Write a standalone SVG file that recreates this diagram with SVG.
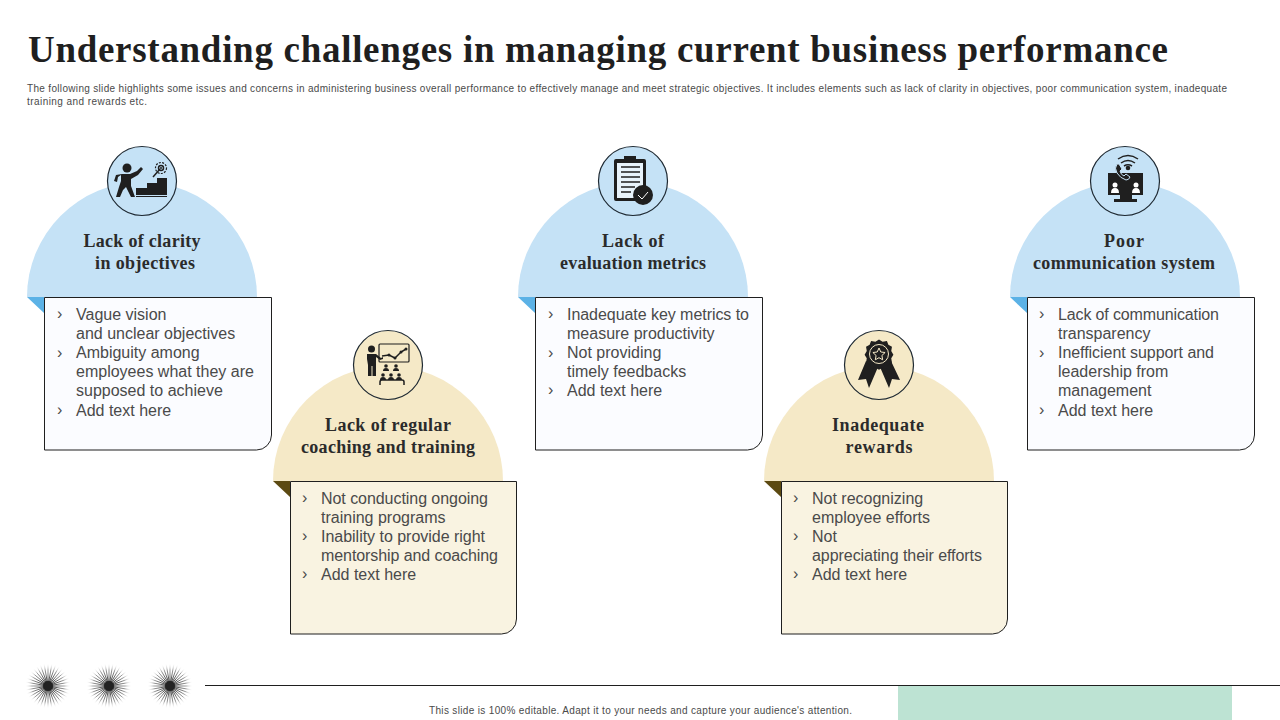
<svg xmlns="http://www.w3.org/2000/svg" xmlns:xlink="http://www.w3.org/1999/xlink" width="1280" height="720" viewBox="0 0 1280 720">
<style>
text{font-family:"Liberation Sans",Arial,sans-serif}
.title{font-family:"Liberation Serif","Times New Roman",serif;font-weight:700;font-size:37px;fill:#1f1f1f}
.sub{font-size:10px;fill:#4a4a4a}
.head{font-family:"Liberation Serif","Times New Roman",serif;font-weight:700;font-size:18px;fill:#2b2b2b;text-anchor:middle}
.body{font-size:16px;fill:#4a4a4a}
.card{stroke:#1f1f1f;stroke-width:1}
.ring{stroke:#1f2a33;stroke-width:1.2}
.ic{fill:#1f1f1f}
.icl{fill:none;stroke:#1f1f1f;stroke-width:1.5}
.icw{fill:none;stroke:#f5e9c7;stroke-width:1}
.db{fill:#c5e2f6}.fb{fill:#5cb2e6}.cb{fill:#fbfcff}
.dt{fill:#f5e9c7}.ft{fill:#5c4a12}.ct{fill:#f9f3e1}
</style>
<defs>
<radialGradient id="rg" gradientUnits="userSpaceOnUse" cx="0" cy="0" r="23">
<stop offset="0" stop-color="#111"/><stop offset=".3" stop-color="#333"/><stop offset=".7" stop-color="#888"/><stop offset="1" stop-color="#fff" stop-opacity="0"/>
</radialGradient>
<g id="spk"><path d="M-23 0H23" stroke="url(#rg)" stroke-width=".8" fill="none"/></g>
<g id="burst">
<use xlink:href="#spk"/><use xlink:href="#spk" transform="rotate(10)"/><use xlink:href="#spk" transform="rotate(20)"/><use xlink:href="#spk" transform="rotate(30)"/><use xlink:href="#spk" transform="rotate(40)"/><use xlink:href="#spk" transform="rotate(50)"/><use xlink:href="#spk" transform="rotate(60)"/><use xlink:href="#spk" transform="rotate(70)"/><use xlink:href="#spk" transform="rotate(80)"/><use xlink:href="#spk" transform="rotate(90)"/><use xlink:href="#spk" transform="rotate(100)"/><use xlink:href="#spk" transform="rotate(110)"/><use xlink:href="#spk" transform="rotate(120)"/><use xlink:href="#spk" transform="rotate(130)"/><use xlink:href="#spk" transform="rotate(140)"/><use xlink:href="#spk" transform="rotate(150)"/><use xlink:href="#spk" transform="rotate(160)"/><use xlink:href="#spk" transform="rotate(170)"/>
<circle r="5" fill="#222"/>
</g>
<g id="bb">
<path class="db" d="M0 112A115 115 0 0 1 230 112Z"/>
<path class="fb" d="M0 112H17V128Z"/>
<path class="card cb" d="M17.500 112.500H244.500V250A15 15 0 0 1 229.500 265H17.500Z"/>
<circle class="ring db" cx="115" cy="-4" r="34.500"/>
</g>
<g id="bt">
<path class="dt" d="M0 112A115 115 0 0 1 230 112Z"/>
<path class="ft" d="M0 112H17V128Z"/>
<path class="card ct" d="M17.500 112.500H243.500V250A15 15 0 0 1 228.500 265H17.500Z"/>
<circle class="ring dt" cx="115" cy="-4" r="34.500"/>
</g>
</defs>

<text class="title" x="28" y="62" textLength="1140" lengthAdjust="spacing">Understanding challenges in managing current business performance</text>
<text class="sub" x="27" y="92" textLength="1200" lengthAdjust="spacing">The following slide highlights some issues and concerns in administering business overall performance to effectively manage and meet strategic objectives. It includes elements such as lack of clarity in objectives, poor communication system, inadequate</text>
<text class="sub" x="27" y="105" textLength="120" lengthAdjust="spacing">training and rewards etc.</text>

<g id="node-clarity" transform="translate(27 185)">
<use xlink:href="#bb"/>
<circle class="ic" cx="100" cy="-17" r="4.500"/>
<path class="ic" d="M95 -11l8 0 7-3 4-4 2 2-5 6-7 4 0 7 4 11h-4l-5-10-3 3-3 7h-4l3-10 2-6 0-6-3 2-1 5-3-1 2-6Z"/>
<path class="ic" d="M109 3h11v-5h10v-5h10v17h-31Z"/>
<path d="M109 11.500h31" stroke="#1f1f1f" stroke-width="1" fill="none"/>
<circle class="icl" cx="134" cy="-17" r="2.500" stroke-width="1"/><circle class="ic" cx="134" cy="-17" r="1"/>
<circle cx="134" cy="-17" r="5.500" fill="none" stroke="#1f1f1f" stroke-width="1.200" stroke-dasharray="2 1.300"/>
<path class="icl" d="M133 -16l-7 8"/>
</g>
<text class="head" x="142" y="247" textLength="117">Lack of clarity</text>
<text class="head" x="145" y="269" textLength="100">in objectives</text>
<g class="body">
<text x="57" y="319">›</text><text x="76" y="320">Vague vision</text>
<text x="76" y="339">and unclear objectives</text>
<text x="57" y="358">›</text><text x="76" y="358">Ambiguity among</text>
<text x="76" y="377">employees what they are</text>
<text x="76" y="396">supposed to achieve</text>
<text x="57" y="415">›</text><text x="76" y="416">Add text here</text>
</g>

<g id="node-coaching" transform="translate(273 369)">
<use xlink:href="#bt"/>
<circle class="ic" cx="98.500" cy="-20" r="3.500"/>
<path class="ic" d="M94 -15h9l5 4 2-1 0 2-3 1-4-3v8v11h-3.500v-10h-1v10h-3.500v-11l-1-6Z"/>
<rect x="106" y="-25" width="30" height="18" fill="none" stroke="#1f1f1f" stroke-width="1.200" rx="1"/>
<path class="icl" d="M109 -13l7 -1 6 3 6-6 5-3" stroke-width="1"/>
<circle class="ic" cx="116" cy="-14" r="1.500"/><circle class="ic" cx="122" cy="-11" r="1.500"/><circle class="ic" cx="128" cy="-17" r="1.500"/><circle class="ic" cx="133" cy="-20" r="1.500"/>
<g class="ic"><circle cx="113" cy="-3" r="1.800"/><path d="M110 2q0-3 3-3t3 3Z"/><circle cx="123" cy="-3" r="1.800"/><path d="M120 2q0-3 3-3t3 3Z"/><circle cx="110" cy="6" r="1.800"/><path d="M107 11q0-3 3-3t3 3Z"/><circle cx="118" cy="6" r="1.800"/><path d="M115 11q0-3 3-3t3 3Z"/><circle cx="126" cy="6" r="1.800"/><path d="M123 11q0-3 3-3t3 3Z"/></g>
<path class="icl" d="M107 16v-3q0-2 2-2h20q2 0 2 2v3" stroke-width="1"/>
</g>
<text class="head" x="388" y="431" textLength="126">Lack of regular</text>
<text class="head" x="388" y="453" textLength="174">coaching and training</text>
<g class="body">
<text x="302" y="503">›</text><text x="321" y="504" textLength="167">Not conducting ongoing</text>
<text x="321" y="523">training programs</text>
<text x="302" y="541">›</text><text x="321" y="542" textLength="164">Inability to provide right</text>
<text x="321" y="561" textLength="177">mentorship and coaching</text>
<text x="302" y="579">›</text><text x="321" y="580">Add text here</text>
</g>

<g id="node-metrics" transform="translate(518 185)">
<use xlink:href="#bb"/>
<path class="ic" d="M98 -26h8v-3h12v3h8q2 0 2 2v40h-30q-2 0-2-2v-38q0-2 2-2Z"/>
<rect x="99" y="-22" width="26" height="35" fill="#e8f3fb"/>
<path d="M103 -18h19M103 -13h19M103 -8h19M103 -3h19M103 2h14M103 7h10" stroke="#1f1f1f" stroke-width="1.500" fill="none"/>
<circle cx="125" cy="10" r="10" fill="#1f1f1f"/>
<path d="M120 10l4 4 6-7" fill="none" stroke="#fff" stroke-width="1"/>
</g>
<text class="head" x="633" y="247" textLength="62">Lack of</text>
<text class="head" x="633" y="269" textLength="146">evaluation metrics</text>
<g class="body">
<text x="548" y="319">›</text><text x="567" y="320" textLength="182">Inadequate key metrics to</text>
<text x="567" y="339">measure productivity</text>
<text x="548" y="358">›</text><text x="567" y="358">Not providing</text>
<text x="567" y="377">timely feedbacks</text>
<text x="548" y="395">›</text><text x="567" y="396">Add text here</text>
</g>

<g id="node-rewards" transform="translate(764 369)">
<use xlink:href="#bt"/>
<path class="ic" d="M102 -8L94 11l8-1 3 9 9-21ZM127 -8l9 19-8-1-3 9-9-21Z"/>
<path class="ic" d="M115 -25l5 3 6-1 2 5 5 3-1 6 3 5-3 5 1 6-5 3-2 5-6-1-5 3-5-3-6 1-2-5-5-3 1-6-3-5 3-5-1-6 5-3 2-5 6 1Z" transform="translate(115 -15) scale(.72) translate(-115 5)"/>
<circle class="icw" cx="115" cy="-15" r="9.500"/>
<path class="icw" d="M115 -21l1.800 4 4.300.5-3.200 3 .8 4.300-3.700-2.100-3.700 2.100.8-4.300-3.200-3 4.300-.5Z"/>
</g>
<text class="head" x="878" y="431" textLength="92">Inadequate</text>
<text class="head" x="879" y="453" textLength="67">rewards</text>
<g class="body">
<text x="793" y="503">›</text><text x="812" y="504">Not recognizing</text>
<text x="812" y="523">employee efforts</text>
<text x="793" y="541">›</text><text x="812" y="542">Not</text>
<text x="812" y="561" textLength="170">appreciating their efforts</text>
<text x="793" y="579">›</text><text x="812" y="580">Add text here</text>
</g>

<g id="node-communication" transform="translate(1010 185)">
<use xlink:href="#bb"/>
<path class="ic" d="M98 -12h35v22h-11v4h5v3h-23v-3h6v-4h-12Z"/>
<g fill="#fff"><circle cx="105" cy="-0" r="2.500"/><path d="M101 8q0-5 4-5t4 5Z"/><circle cx="126" cy="0" r="2.500"/><path d="M122 8q0-5 4-5t4 5Z"/></g>
<path d="M107 -21q-3 4 0 9t9 7q3 0 4-3l-4-3-2 2q-3-1-4-5l2-2-3-5Z" fill="#1f1f1f" stroke="#c5e2f6" stroke-width="1"/>
<circle class="ic" cx="118" cy="-17" r="2.300"/>
<path class="icl" d="M111 -22q7-5 14 0M108 -26q10-7 20 0M114 -19q4-2.500 8 0" stroke-width="1.100"/>
</g>
<text class="head" x="1124" y="247" textLength="40">Poor</text>
<text class="head" x="1124" y="269" textLength="182">communication system</text>
<g class="body">
<text x="1039" y="319">›</text><text x="1058" y="320" textLength="161">Lack of communication</text>
<text x="1058" y="339">transparency</text>
<text x="1039" y="358">›</text><text x="1058" y="358" textLength="156">Inefficient support and</text>
<text x="1058" y="377">leadership from</text>
<text x="1058" y="396">management</text>
<text x="1039" y="415">›</text><text x="1058" y="416">Add text here</text>
</g>

<use xlink:href="#burst" transform="translate(48 686)"/>
<use xlink:href="#burst" transform="translate(109 686)"/>
<use xlink:href="#burst" transform="translate(170 686)"/>
<path d="M205 685.500H1280" stroke="#1f1f1f" stroke-width="1" fill="none"/>
<rect x="898" y="686" width="334" height="34" fill="#bde3d3"/>
<text class="sub" x="429" y="714" textLength="423" lengthAdjust="spacing">This slide is 100% editable. Adapt it to your needs and capture your audience's attention.</text>
</svg>
